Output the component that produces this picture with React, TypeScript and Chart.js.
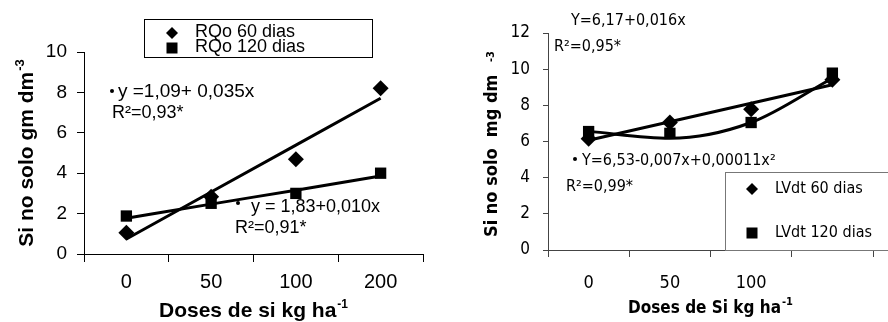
import React, { useEffect, useRef } from "react";
import { Chart, registerables } from "chart.js";

Chart.register(...registerables);

// ---------- data ----------
const leftCategories = ["0", "50", "100", "200"];
const rqo60 = [1.05, 2.84, 4.69, 8.2];
const rqo120 = [1.88, 2.51, 3.0, 4.0];
const rqo60Fit = [0.74, 3.07, 5.39, 7.71];
const rqo120Fit = [1.77, 2.47, 3.16, 3.86];

const rightCategories = ["0", "50", "100", ""];
const lvdt60 = [6.15, 7.05, 7.78, 9.42];
const lvdt120 = [6.55, 6.45, 7.05, 9.78];
const lvdt60Fit = [6.07, 7.09, 8.12, 9.14];
const lvdt120Fit = [6.56, 6.18, 7.05, 9.5];

const leftLegend = ["RQo 60 dias", "RQo 120 dias"];
const rightLegend = ["LVdt 60 dias", "LVdt 120 dias"];

const SANS = '"Liberation Sans", Arial, Helvetica, sans-serif';
const NARROW = '"Liberation Sans Narrow", "Arial Narrow", "DejaVu Sans Condensed", sans-serif';

function diamond(ctx: CanvasRenderingContext2D, x: number, y: number, r: number) {
  ctx.beginPath();
  ctx.moveTo(x, y - r);
  ctx.lineTo(x + r, y);
  ctx.lineTo(x, y + r);
  ctx.lineTo(x - r, y);
  ctx.closePath();
  ctx.fill();
}
function square(ctx: CanvasRenderingContext2D, x: number, y: number, h: number) {
  ctx.fillRect(x - h, y - h, 2 * h, 2 * h);
}
function bullet(ctx: CanvasRenderingContext2D, x: number, y: number) {
  ctx.beginPath();
  ctx.arc(x, y, 2, 0, Math.PI * 2);
  ctx.fill();
}
function textSup(
  ctx: CanvasRenderingContext2D,
  base: string,
  sup: string,
  x: number,
  y: number,
  font: string,
  supFont: string,
  gap: number,
  raise: number,
  center: boolean,
  supAt?: number
) {
  ctx.font = font;
  const w1 = ctx.measureText(base).width;
  ctx.font = supFont;
  const w2 = ctx.measureText(sup).width;
  const total = w1 + gap + w2;
  const sx = center ? x - total / 2 : x;
  ctx.textAlign = "left";
  ctx.textBaseline = "alphabetic";
  ctx.font = font;
  ctx.fillText(base, sx, y);
  ctx.font = supFont;
  ctx.fillText(sup, supAt !== undefined ? sx + supAt : sx + w1 + gap, y - raise);
}

const leftDecor = {
  id: "leftDecor",
  afterDraw(chart: any) {
    const ctx: CanvasRenderingContext2D = chart.ctx;
    const a = chart.chartArea;
    ctx.save();
    ctx.fillStyle = "#000";
    ctx.strokeStyle = "#000";
    // legend
    ctx.lineWidth = 1;
    ctx.strokeRect(144.5, 19.5, 228, 38);
    diamond(ctx, 172, 33, 6);
    square(ctx, 172, 48, 5.5);
    ctx.font = `18px ${SANS}`;
    ctx.textAlign = "left";
    ctx.textBaseline = "middle";
    ctx.fillText(leftLegend[0], 195, 32);
    ctx.fillText(leftLegend[1], 195, 47);
    // equations
    ctx.textBaseline = "alphabetic";
    ctx.font = `19px ${SANS}`;
    bullet(ctx, 112, 91);
    ctx.fillText("y =1,09+ 0,035x", 118, 97);
    ctx.font = `18px ${SANS}`;
    ctx.fillText("R²=0,93*", 112, 118);
    bullet(ctx, 238, 203);
    ctx.fillText("y = 1,83+0,010x", 251, 212);
    ctx.fillText("R²=0,91*", 235, 233);
    // axis titles
    textSup(ctx, "Doses de si kg ha", "-1", (a.left + a.right) / 2, 317, `bold 21px ${SANS}`, `bold 12px ${SANS}`, 1, 9, true);
    ctx.save();
    ctx.translate(33, (a.top + a.bottom) / 2);
    ctx.rotate(-Math.PI / 2);
    textSup(ctx, "Si no solo gm dm", "-3", 0, 0, `bold 21px ${SANS}`, `bold 13px ${SANS}`, 1, 9, true);
    ctx.restore();
    ctx.restore();
  },
};

const rightDecor = {
  id: "rightDecor",
  afterDraw(chart: any) {
    const ctx: CanvasRenderingContext2D = chart.ctx;
    const a = chart.chartArea;
    ctx.save();
    ctx.fillStyle = "#000";
    // axis extension to the edge
    ctx.strokeStyle = "#444";
    ctx.lineWidth = 1;
    ctx.beginPath();
    ctx.moveTo(a.right, Math.round(a.bottom) + 0.5);
    ctx.lineTo(chart.width, Math.round(a.bottom) + 0.5);
    ctx.stroke();
    // legend box
    ctx.strokeStyle = "#777";
    ctx.fillStyle = "#fff";
    ctx.fillRect(281, 172, 200, a.bottom - 172);
    ctx.strokeRect(281.5, 172.5, 200, Math.round(a.bottom) - 172);
    ctx.fillStyle = "#000";
    diamond(ctx, 308, 189, 6);
    square(ctx, 308, 233, 5.5);
    ctx.font = `16px ${NARROW}`;
    ctx.textAlign = "left";
    ctx.textBaseline = "middle";
    ctx.fillText(rightLegend[0], 331, 189);
    ctx.fillText(rightLegend[1], 331, 233);
    // equations
    ctx.textBaseline = "alphabetic";
    ctx.font = `16px ${NARROW}`;
    ctx.fillText("Y=6,17+0,016x", 127, 25);
    ctx.fillText("R²=0,95*", 110, 51);
    bullet(ctx, 131, 159);
    ctx.fillText("Y=6,53-0,007x+0,00011x²", 138, 165);
    ctx.fillText("R²=0,99*", 122, 191);
    // axis titles
    textSup(ctx, "Doses de Si kg ha", "-1", (a.left + a.right) / 2, 313, `bold 17px ${NARROW}`, `bold 11px ${NARROW}`, 1, 8, true);
    ctx.save();
    ctx.translate(53, 237);
    ctx.rotate(-Math.PI / 2);
    textSup(ctx, "Si no solo  mg dm", "-3", 0, 0, `bold 18px ${NARROW}`, `bold 11px ${NARROW}`, 0, 3, false, 175);
    ctx.restore();
    ctx.restore();
  },
};

function makeDatasets(a: number[], b: number[], fa: number[], fb: number[]) {
  return [
    {
      label: "fitA",
      data: fa,
      borderColor: "#000",
      borderWidth: 3,
      pointRadius: 0,
      fill: false,
    },
    {
      label: "fitB",
      data: fb,
      borderColor: "#000",
      borderWidth: 3,
      pointRadius: 0,
      fill: false,
      cubicInterpolationMode: "monotone" as const,
    },
    {
      label: "A",
      data: a,
      showLine: false,
      pointStyle: "rectRot" as const,
      pointRadius: 8,
      pointBackgroundColor: "#000",
      pointBorderColor: "#000",
      pointBorderWidth: 0,
    },
    {
      label: "B",
      data: b,
      showLine: false,
      pointStyle: "rect" as const,
      pointRadius: 8,
      pointBackgroundColor: "#000",
      pointBorderColor: "#000",
      pointBorderWidth: 0,
    },
  ];
}

function LeftChart() {
  const ref = useRef<HTMLCanvasElement | null>(null);
  useEffect(() => {
    if (!ref.current) return;
    const chart = new Chart(ref.current, {
      type: "line",
      data: { labels: leftCategories, datasets: makeDatasets(rqo60, rqo120, rqo60Fit, rqo120Fit) as any },
      options: {
        animation: false,
        responsive: false,
        maintainAspectRatio: false,
        layout: { padding: { top: 52, right: 21, left: 0, bottom: 0 } },
        plugins: { legend: { display: false }, tooltip: { enabled: false } },
        scales: {
          x: {
            type: "category",
            offset: true,
            grid: { offset: true, drawOnChartArea: false, drawTicks: true, tickLength: 8, color: "#000" },
            border: { display: true, color: "#000", width: 1 },
            ticks: { color: "#000", font: { family: SANS, size: 20 }, padding: 8, maxRotation: 0, autoSkip: false },
            afterFit: (s: any) => {
              s.height = 68;
            },
          },
          y: {
            min: 0,
            max: 10,
            ticks: { stepSize: 2, color: "#000", font: { family: SANS, size: 19 }, padding: 10 },
            grid: { drawOnChartArea: false, drawTicks: true, tickLength: 7, color: "#000" },
            border: { display: true, color: "#000", width: 1 },
            afterFit: (s: any) => {
              s.width = 84;
            },
          },
        },
      },
      plugins: [leftDecor],
    });
    return () => chart.destroy();
  }, []);
  return <canvas ref={ref} width={444} height={322} style={{ position: "absolute", left: 0, top: 0, width: 444, height: 322 }} />;
}

function RightChart() {
  const ref = useRef<HTMLCanvasElement | null>(null);
  useEffect(() => {
    if (!ref.current) return;
    const chart = new Chart(ref.current, {
      type: "line",
      data: { labels: rightCategories, datasets: makeDatasets(lvdt60, lvdt120, lvdt60Fit, lvdt120Fit) as any },
      options: {
        animation: false,
        responsive: false,
        maintainAspectRatio: false,
        layout: { padding: { top: 33, right: 15, left: 0, bottom: 0 } },
        plugins: { legend: { display: false }, tooltip: { enabled: false } },
        scales: {
          x: {
            type: "category",
            offset: true,
            grid: { offset: true, drawOnChartArea: false, drawTicks: true, tickLength: 7, color: "#444" },
            border: { display: true, color: "#444", width: 1 },
            ticks: { color: "#000", font: { family: NARROW, size: 18 }, padding: 16, maxRotation: 0, autoSkip: false },
            afterFit: (s: any) => {
              s.height = 72;
            },
          },
          y: {
            min: 0,
            max: 12,
            ticks: { stepSize: 2, color: "#000", font: { family: NARROW, size: 17 }, padding: 13 },
            grid: { drawOnChartArea: false, drawTicks: true, tickLength: 5, color: "#444" },
            border: { display: true, color: "#444", width: 1 },
            afterFit: (s: any) => {
              s.width = 104;
            },
          },
        },
      },
      plugins: [rightDecor],
    });
    return () => chart.destroy();
  }, []);
  return <canvas ref={ref} width={444} height={322} style={{ position: "absolute", left: 444, top: 0, width: 444, height: 322 }} />;
}

export default function App() {
  return (
    <div style={{ position: "fixed", left: 0, top: 0, width: 888, height: 322, overflow: "hidden", background: "#fff" }}>
      <LeftChart />
      <RightChart />
    </div>
  );
}
